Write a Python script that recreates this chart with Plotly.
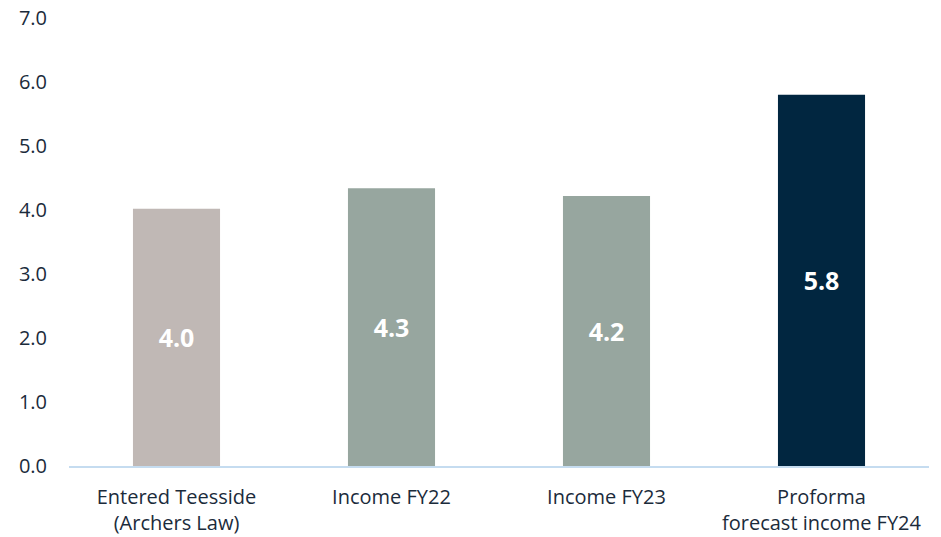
import plotly.graph_objects as go

categories = ["Entered Teesside<br>(Archers Law)", "Income FY22", "Income FY23", "Proforma<br>forecast income FY24"]
values = [4.02, 4.34, 4.22, 5.8]
labels = ["4.0", "4.3", "4.2", "5.8"]
colors = ["#C0B8B5", "#97A69F", "#97A69F", "#012640"]
y_ticks = [0, 1, 2, 3, 4, 5, 6, 7]
y_tick_text = ["0.0", "1.0", "2.0", "3.0", "4.0", "5.0", "6.0", "7.0"]

FONT = "Open Sans"
TXT = "#1B2B3B"

fig = go.Figure(go.Bar(
    x=categories, y=values, text=labels,
    marker=dict(color=colors, line=dict(width=0)),
    textposition="inside", insidetextanchor="middle",
    textfont=dict(family=FONT, size=25, color="white", weight="bold"),
    textangle=0, cliponaxis=False,
))

# page body adds an 8px offset, so the figure is sized/margined to compensate
fig.update_layout(
    width=933, height=529,
    margin=dict(l=61, r=12, t=10, b=71, autoexpand=False),
    paper_bgcolor="white", plot_bgcolor="white",
    bargap=0.595, showlegend=False,
    uniformtext=dict(minsize=8, mode="show"),
    font=dict(family=FONT, size=20, color=TXT),
)
fig.update_xaxes(
    showline=True, linecolor="#C5DCF0", linewidth=2, automargin=False,
    showgrid=False, ticks="", ticklabelstandoff=12,
    tickfont=dict(family=FONT, size=20, color=TXT),
)
fig.update_yaxes(
    range=[0, 7], tickvals=y_ticks, ticktext=y_tick_text, automargin=False,
    showgrid=False, zeroline=False, showline=False, ticks="",
    ticklabeloverflow="allow",
    ticklabelstandoff=21, tickfont=dict(family=FONT, size=20, color=TXT),
)

fig.write_html("out.html")
